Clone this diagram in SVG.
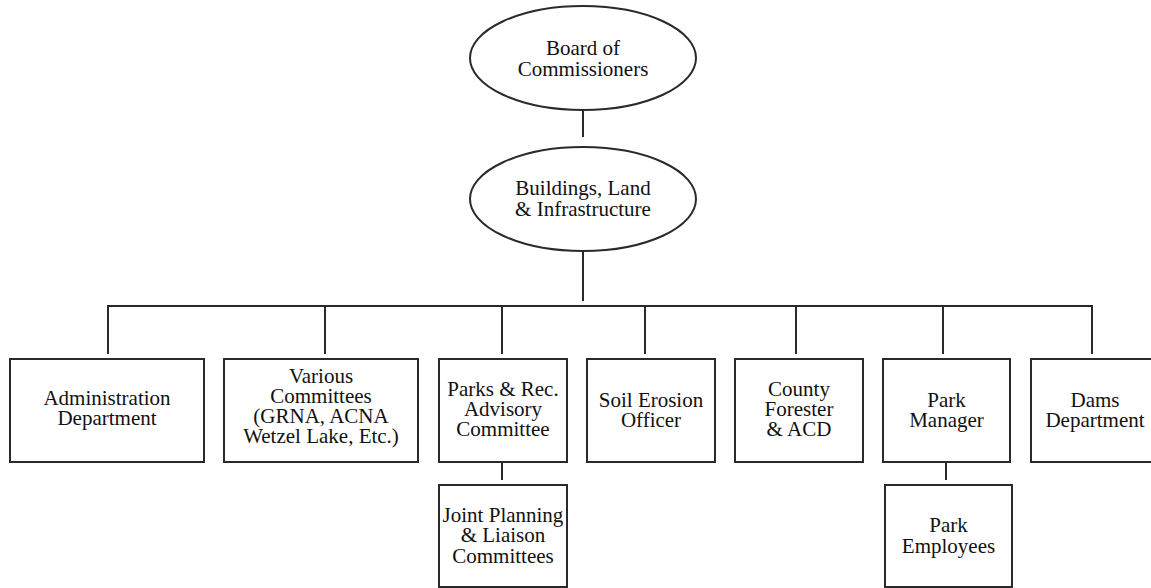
<svg xmlns="http://www.w3.org/2000/svg" width="1151" height="588" viewBox="0 0 1151 588">
<rect width="1151" height="588" fill="#fff"/>
<g id="connectors" stroke="#2a2a2a" stroke-width="2" fill="none">
<line x1="583" y1="110" x2="583" y2="137"/>
<line x1="583" y1="251" x2="583" y2="301"/>
<line x1="107" y1="306" x2="1093" y2="306"/>
<line x1="108" y1="305" x2="108" y2="354"/>
<line x1="325" y1="305" x2="325" y2="354"/>
<line x1="502" y1="305" x2="502" y2="354"/>
<line x1="645" y1="305" x2="645" y2="354"/>
<line x1="796" y1="305" x2="796" y2="354"/>
<line x1="943" y1="305" x2="943" y2="354"/>
<line x1="1092" y1="305" x2="1092" y2="354"/>
<line x1="502" y1="462" x2="502" y2="480"/>
<line x1="946" y1="462" x2="946" y2="480"/>
</g>
<g id="board">
<ellipse cx="583" cy="58" rx="113" ry="52" fill="#fff" stroke="#2a2a2a" stroke-width="2"/>
<text font-family="Liberation Serif" font-size="21" fill="#111" text-anchor="middle" x="583" y="55">Board of</text>
<text font-family="Liberation Serif" font-size="21" fill="#111" text-anchor="middle" x="583" y="76">Commissioners</text>
</g>
<g id="buildings">
<ellipse cx="583" cy="199" rx="113" ry="52" fill="#fff" stroke="#2a2a2a" stroke-width="2"/>
<text font-family="Liberation Serif" font-size="21" fill="#111" text-anchor="middle" x="583" y="195">Buildings, Land</text>
<text font-family="Liberation Serif" font-size="21" fill="#111" text-anchor="middle" x="583" y="216">&amp; Infrastructure</text>
</g>
<g id="admin">
<rect x="10" y="359" width="194" height="103" fill="#fff" stroke="#2a2a2a" stroke-width="2"/>
<text font-family="Liberation Serif" font-size="21" fill="#111" text-anchor="middle" x="107" y="405">Administration</text>
<text font-family="Liberation Serif" font-size="21" fill="#111" text-anchor="middle" x="107" y="425">Department</text>
</g>
<g id="various">
<rect x="224" y="359" width="194" height="103" fill="#fff" stroke="#2a2a2a" stroke-width="2"/>
<text font-family="Liberation Serif" font-size="21" fill="#111" text-anchor="middle" x="321" y="383">Various</text>
<text font-family="Liberation Serif" font-size="21" fill="#111" text-anchor="middle" x="321" y="403">Committees</text>
<text font-family="Liberation Serif" font-size="21" fill="#111" text-anchor="middle" x="321" y="423">(GRNA, ACNA</text>
<text font-family="Liberation Serif" font-size="21" fill="#111" text-anchor="middle" x="321" y="443">Wetzel Lake, Etc.)</text>
</g>
<g id="parks">
<rect x="439" y="359" width="128" height="103" fill="#fff" stroke="#2a2a2a" stroke-width="2"/>
<text font-family="Liberation Serif" font-size="21" fill="#111" text-anchor="middle" x="503" y="396">Parks &amp; Rec.</text>
<text font-family="Liberation Serif" font-size="21" fill="#111" text-anchor="middle" x="503" y="416">Advisory</text>
<text font-family="Liberation Serif" font-size="21" fill="#111" text-anchor="middle" x="503" y="436">Committee</text>
</g>
<g id="soil">
<rect x="587" y="359" width="128" height="103" fill="#fff" stroke="#2a2a2a" stroke-width="2"/>
<text font-family="Liberation Serif" font-size="21" fill="#111" text-anchor="middle" x="651" y="407">Soil Erosion</text>
<text font-family="Liberation Serif" font-size="21" fill="#111" text-anchor="middle" x="651" y="427">Officer</text>
</g>
<g id="forester">
<rect x="735" y="359" width="128" height="103" fill="#fff" stroke="#2a2a2a" stroke-width="2"/>
<text font-family="Liberation Serif" font-size="21" fill="#111" text-anchor="middle" x="799" y="396">County</text>
<text font-family="Liberation Serif" font-size="21" fill="#111" text-anchor="middle" x="799" y="416">Forester</text>
<text font-family="Liberation Serif" font-size="21" fill="#111" text-anchor="middle" x="799" y="436">&amp; ACD</text>
</g>
<g id="manager">
<rect x="883" y="359" width="127" height="103" fill="#fff" stroke="#2a2a2a" stroke-width="2"/>
<text font-family="Liberation Serif" font-size="21" fill="#111" text-anchor="middle" x="946.5" y="407">Park</text>
<text font-family="Liberation Serif" font-size="21" fill="#111" text-anchor="middle" x="946.5" y="427">Manager</text>
</g>
<g id="dams">
<rect x="1031" y="359" width="128" height="103" fill="#fff" stroke="#2a2a2a" stroke-width="2"/>
<text font-family="Liberation Serif" font-size="21" fill="#111" text-anchor="middle" x="1095" y="407">Dams</text>
<text font-family="Liberation Serif" font-size="21" fill="#111" text-anchor="middle" x="1095" y="427">Department</text>
</g>
<g id="joint">
<rect x="439" y="485" width="128" height="102" fill="#fff" stroke="#2a2a2a" stroke-width="2"/>
<text font-family="Liberation Serif" font-size="21" fill="#111" text-anchor="middle" x="503" y="522">Joint Planning</text>
<text font-family="Liberation Serif" font-size="21" fill="#111" text-anchor="middle" x="503" y="542">&amp; Liaison</text>
<text font-family="Liberation Serif" font-size="21" fill="#111" text-anchor="middle" x="503" y="563">Committees</text>
</g>
<g id="employees">
<rect x="885" y="485" width="127" height="102" fill="#fff" stroke="#2a2a2a" stroke-width="2"/>
<text font-family="Liberation Serif" font-size="21" fill="#111" text-anchor="middle" x="948.5" y="532">Park</text>
<text font-family="Liberation Serif" font-size="21" fill="#111" text-anchor="middle" x="948.5" y="553">Employees</text>
</g>
</svg>
